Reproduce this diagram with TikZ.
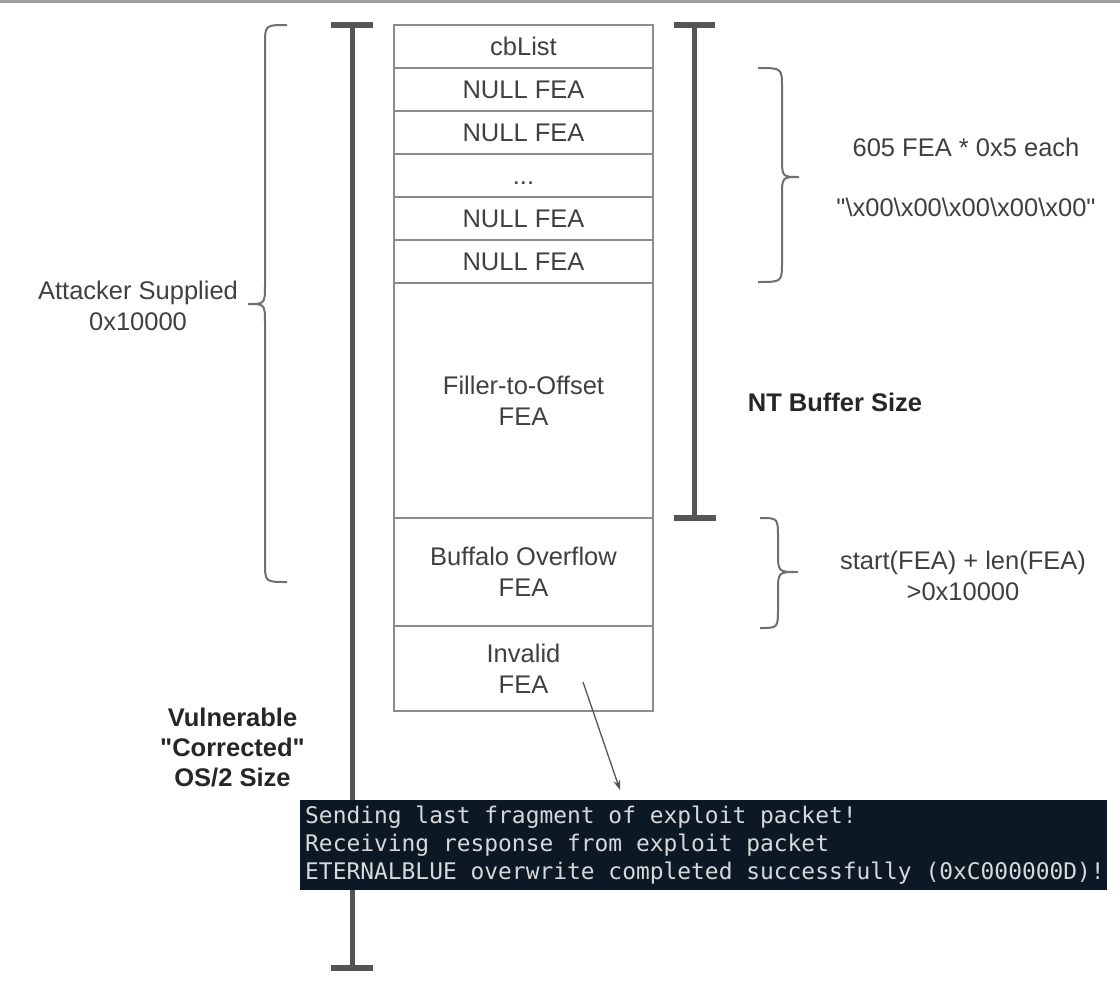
\documentclass[tikz,border=0pt]{standalone}
\usepackage{fontspec}
\setmainfont{Liberation Sans}
\newfontfamily\termfont{DejaVu Sans Mono}
\usetikzlibrary{arrows.meta}
\definecolor{cellgray}{HTML}{8C8C8C}
\definecolor{txt}{HTML}{404040}
\definecolor{txtb}{HTML}{262626}
\definecolor{bargray}{HTML}{555555}
\definecolor{bracegray}{HTML}{707070}
\definecolor{termbg}{HTML}{0C1824}
\definecolor{termtxt}{HTML}{D5D9DC}
\definecolor{topline}{HTML}{A0A0A0}
\begin{document}
\begin{tikzpicture}[x=1pt,y=-1pt,
  cell/.style={draw=cellgray, line width=1.8pt, fill=white, minimum width=259pt,
    inner sep=0pt, outer sep=0pt, text=txt, font=\fontsize{25.5}{31}\selectfont},
  onecell/.style={cell, text height=18.3pt, text depth=0pt},
  twocell/.style={cell, align=center},
  lbl/.style={text=txt, font=\fontsize{25.5}{31}\selectfont, align=center, inner sep=0pt},
  blbl/.style={text=txtb, font=\bfseries\fontsize{25.5}{30}\selectfont, align=center, inner sep=0pt},
  bar/.style={draw=bargray, line width=5pt},
  barcap/.style={draw=bargray, line width=6pt},
  brace/.style={draw=bracegray, line width=2pt},
  term/.style={fill=termbg, draw=none, inner sep=0pt, minimum width=807pt, minimum height=90pt},
  termline/.style={text=termtxt, font=\termfont\fontsize{22.9}{28}\selectfont, inner sep=0pt, anchor=base west},
  arr/.style={draw=bargray, line width=1.3pt, -{Stealth[length=10pt,width=7pt]}}
]
\useasboundingbox (0,0) rectangle (1120,988);
\fill[white] (0,0) rectangle (1120,988);
\draw[topline, line width=3pt] (0,1.5) -- (1120,1.5);

% stack of cells
\node[onecell, minimum height=43pt] (cb) at (523.5,46.5) {cbList};
\node[onecell, minimum height=43pt] (n1) at (523.5,89.5) {NULL FEA};
\node[onecell, minimum height=43pt] (n2) at (523.5,132.5) {NULL FEA};
\node[onecell, minimum height=43pt] (dots) at (523.5,175.5) {...};
\node[onecell, minimum height=43pt] (n3) at (523.5,218.5) {NULL FEA};
\node[onecell, minimum height=43pt] (n4) at (523.5,261.5) {NULL FEA};
\node[twocell, minimum height=235pt] (fill) at (523.5,400.5) {Filler-to-Offset\\FEA};
\node[twocell, minimum height=108pt] (buf) at (523.5,572) {Buffalo Overflow\\FEA};
\node[twocell, minimum height=85pt] (inv) at (523.5,668.5) {Invalid\\FEA};

% left long bar
\coordinate (lt) at (352,25);
\coordinate (lb) at (352,968);
\draw[bar] (lt) -- (lb);
\draw[barcap] (331,25) -- (373,25);
\draw[barcap] (331,968) -- (373,968);

% right bar (NT buffer size)
\coordinate (rt) at (694,25);
\coordinate (rb) at (694,518);
\draw[bar] (rt) -- (rb);
\draw[barcap] (674,25) -- (715,25);
\draw[barcap] (674,518) -- (716,518);

% braces
\draw[brace] (287,25) .. controls (265,25) .. (265,45) -- (265,284)
  .. controls (265,304) .. (248,304) .. controls (265,304) .. (265,324)
  -- (265,562) .. controls (265,582) .. (287,582);
\draw[brace] (758,68) .. controls (782,68) .. (782,88) -- (782,157)
  .. controls (782,177) .. (799,177) .. controls (782,177) .. (782,197)
  -- (782,262) .. controls (782,282) .. (758,282);
\draw[brace] (760,518) .. controls (778,518) .. (778,538) -- (778,552)
  .. controls (778,572) .. (798,572) .. controls (778,572) .. (778,592)
  -- (778,608) .. controls (778,628) .. (760,628);

% labels
\node[lbl] (att) at (138,306) {Attacker Supplied\\0x10000};
\node[lbl] (fea605) at (966,147) {605 FEA * 0x5 each};
\node[lbl] (nulls) at (966,207) {\textquotedbl\textbackslash x00\textbackslash x00\textbackslash x00\textbackslash x00\textbackslash x00\textquotedbl};
\node[blbl] (nt) at (835,402) {NT Buffer Size};
\node[lbl] (start) at (963,576) {start(FEA) + len(FEA)\\>0x10000};
\node[blbl] (vuln) at (232.5,748) {Vulnerable\\\textquotedbl Corrected\textquotedbl\\OS/2 Size};

% terminal
\node[term] (tbox) at (703.5,845) {};
\node[termline] (t1) at (305,823) {Sending last fragment of exploit packet!};
\node[termline] (t2) at (305,851) {Receiving response from exploit packet};
\node[termline] (t3) at (305,879) {ETERNALBLUE overwrite completed successfully (0xC000000D)!};

% arrow
\coordinate (a1) at (583,682);
\coordinate (a2) at (620,790);
\draw[arr] (a1) -- (a2);
\end{tikzpicture}
\end{document}
